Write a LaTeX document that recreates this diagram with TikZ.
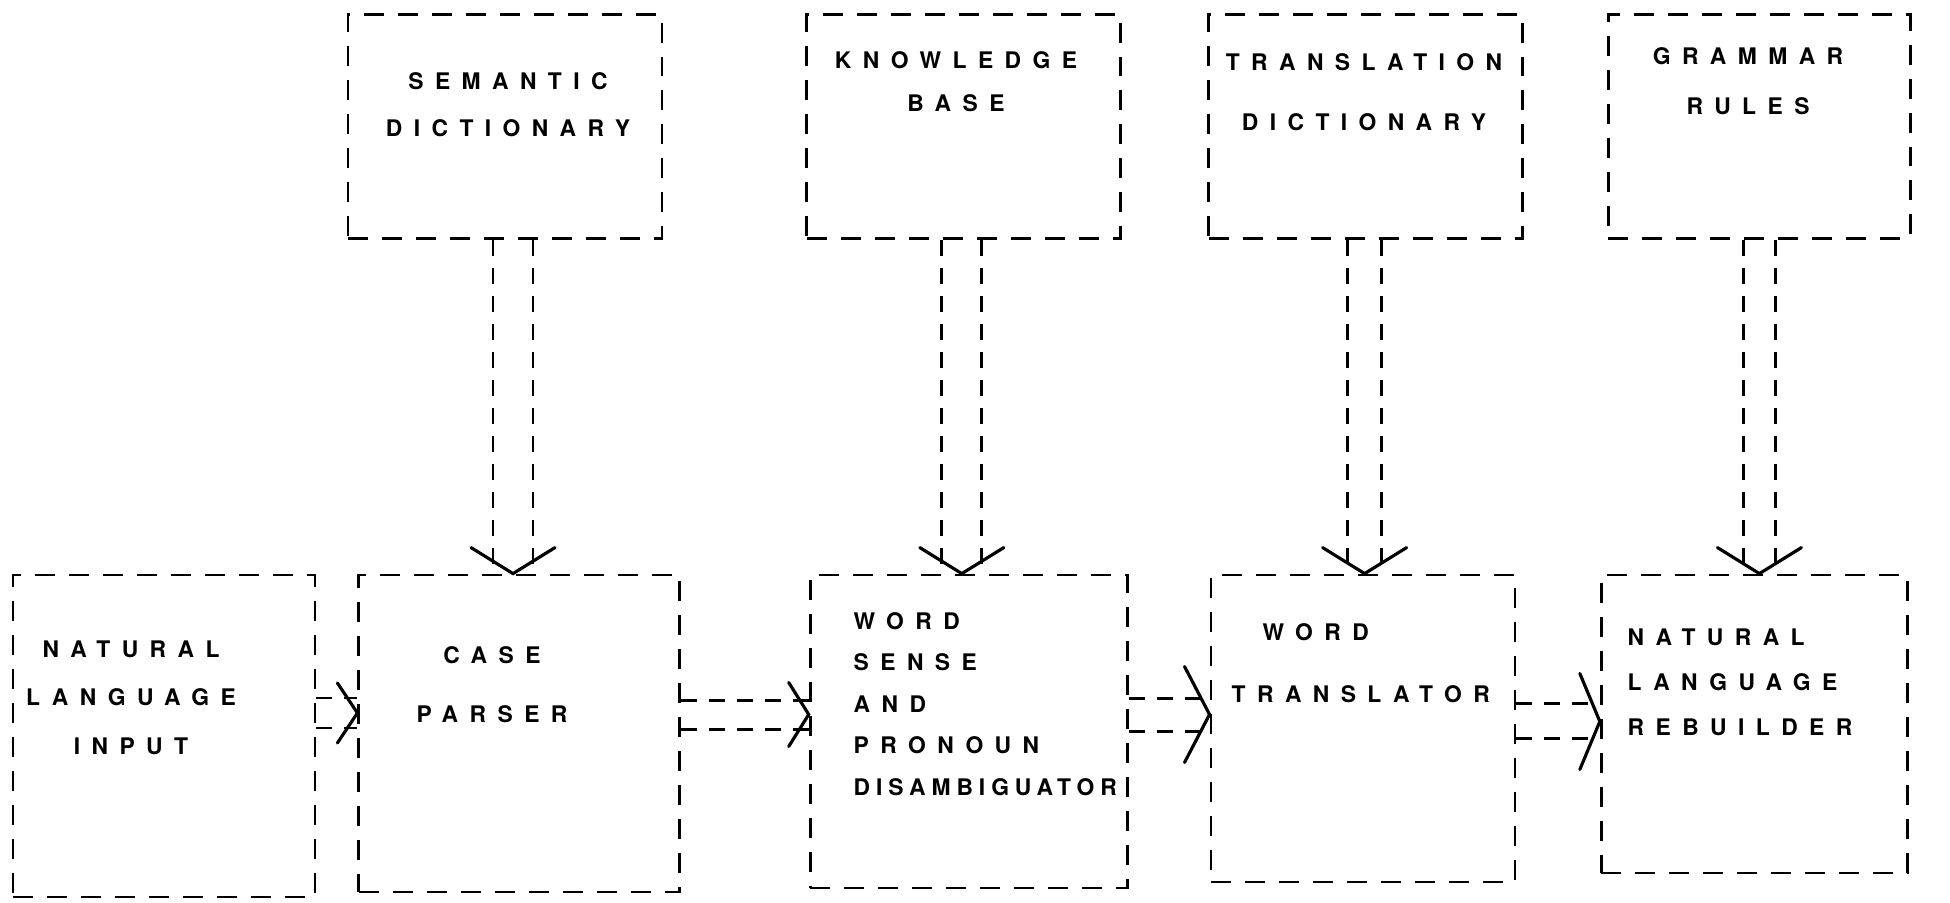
\documentclass[tikz,border=0pt]{standalone}
\usepackage{fontspec}
\usetikzlibrary{positioning}
\newfontfamily\handfont[LetterSpace=50]{TeX Gyre Heros}
\newfontfamily\handtight[LetterSpace=26]{TeX Gyre Heros}

\begin{document}
\begin{tikzpicture}[
  store/.style={draw, line width=0.8pt, dash pattern=on 0.2cm off 0.14cm, minimum width=3.14cm, minimum height=2.24cm},
  stage/.style={draw, line width=0.8pt, dash pattern=on 0.2cm off 0.14cm, minimum width=3.1cm, minimum height=3.15cm},
  lbl/.style={inner sep=0pt, font=\handfont\bfseries\fontsize{6.5}{#1}\selectfont},
  feed/.style={line width=0.8pt, dash pattern=on 0.16cm off 0.12cm},
  barb/.style={line width=0.9pt, line cap=round, line join=miter}]
  \useasboundingbox (0,0) rectangle (19.5,9.03);

  % knowledge stores along the top
  \node[store] (semdict) at (5.05,7.765) {};
  \node[store, right=1.42cm of semdict] (kbase) {};
  \node[store, right=0.85cm of kbase] (transdict) {};
  \node[store, right=0.83cm of transdict, minimum width=3.02cm] (grammar) {};

  % processing stages along the bottom
  \node[stage, minimum width=3.02cm, minimum height=3.22cm] (nlinput) at (1.64,1.67) {};
  \node[stage, right=0.41cm of nlinput.north east, anchor=north west, minimum width=3.21cm, minimum height=3.17cm] (caseparser) {};
  \node[stage, right=1.275cm of caseparser.north east, anchor=north west, minimum width=3.17cm, minimum height=3.13cm] (wordsense) {};
  \node[stage, right=0.81cm of wordsense.north east, anchor=north west, minimum width=3.04cm, minimum height=3.07cm] (translator) {};
  \node[stage, right=0.835cm of translator.north east, anchor=north west, minimum width=3.06cm, minimum height=2.98cm] (rebuilder) {};

  \node[lbl=13.4, align=center] (semdict-txt) at (5.08,7.985) {SEMANTIC\\DICTIONARY};
  \node[lbl=12.2, align=center] (kbase-txt) at (9.56,8.215) {KNOWLEDGE\\BASE};
  \node[lbl=17, align=center] (transdict-txt) at (13.64,8.11) {TRANSLATION\\DICTIONARY};
  \node[lbl=14.2, align=center] (grammar-txt) at (17.48,8.22) {GRAMMAR\\RULES};
  \node[lbl=13.8, align=center] (nlinput-txt) at (1.31,2.055) {NATURAL\\LANGUAGE\\INPUT};
  \node[lbl=16.8, align=center] (caseparser-txt) at (4.92,2.185) {CASE\\PARSER};
  \node[lbl=11.8, align=left, anchor=west] (wordsense-txt) at (8.53,1.99) {WORD\\SENSE\\AND\\PRONOUN\\{\handtight\bfseries DISAMBIGUATOR}};
  \node[lbl=17.6, align=left, anchor=west] (translator-txt) at (12.31,2.4) {\hspace*{0.31cm}WORD\\TRANSLATOR};
  \node[lbl=12.8, align=left, anchor=west] (rebuilder-txt) at (16.27,2.21) {NATURAL\\LANGUAGE\\REBUILDER};

  % feeds from the stores
  \draw[feed] ([xshift=-1.2mm]semdict.south) -- ([xshift=-1.2mm]semdict.south |- caseparser.north);
  \draw[feed] ([xshift=2.8mm]semdict.south) -- ([xshift=2.8mm]semdict.south |- caseparser.north);
  \draw[barb] ([xshift=0.8mm]semdict.south |- caseparser.north) ++(-0.42,0.26) -- ++(0.42,-0.26) -- ++(0.42,0.26);
  \draw[feed] ([xshift=-2.2mm]kbase.south) -- ([xshift=-2.2mm]kbase.south |- wordsense.north);
  \draw[feed] ([xshift=1.8mm]kbase.south) -- ([xshift=1.8mm]kbase.south |- wordsense.north);
  \draw[barb] ([xshift=-0.2mm]kbase.south |- wordsense.north) ++(-0.42,0.26) -- ++(0.42,-0.26) -- ++(0.42,0.26);
  \draw[feed] ([xshift=-1.8mm]transdict.south) -- ([xshift=-1.8mm]transdict.south |- translator.north);
  \draw[feed] ([xshift=1.6mm]transdict.south) -- ([xshift=1.6mm]transdict.south |- translator.north);
  \draw[barb] ([xshift=-0.1mm]transdict.south |- translator.north) ++(-0.42,0.26) -- ++(0.42,-0.26) -- ++(0.42,0.26);
  \draw[feed] ([xshift=-1.6mm]grammar.south) -- ([xshift=-1.6mm]grammar.south |- rebuilder.north);
  \draw[feed] ([xshift=1.6mm]grammar.south) -- ([xshift=1.6mm]grammar.south |- rebuilder.north);
  \draw[barb] (grammar.south |- rebuilder.north) ++(-0.42,0.26) -- ++(0.42,-0.26) -- ++(0.42,0.26);

  % the main pipeline
  \draw[feed] ([yshift=3.8mm]nlinput.east) -- ([yshift=3.8mm]nlinput.east -| caseparser.west);
  \draw[feed] ([yshift=0.8mm]nlinput.east) -- ([yshift=0.8mm]nlinput.east -| caseparser.west);
  \draw[barb] ([yshift=2.3mm]nlinput.east -| caseparser.west) ++(-0.2,0.3) -- ++(0.2,-0.3) -- ++(-0.2,-0.3);
  \draw[feed] ([yshift=3.3mm]caseparser.east) -- ([yshift=3.3mm]caseparser.east -| wordsense.west);
  \draw[feed] ([yshift=0.4mm]caseparser.east) -- ([yshift=0.4mm]caseparser.east -| wordsense.west);
  \draw[barb] ([yshift=1.9mm]caseparser.east -| wordsense.west) ++(-0.2,0.32) -- ++(0.2,-0.32) -- ++(-0.2,-0.32);
  \draw[feed] ([yshift=3.3mm]wordsense.east) -- ([yshift=3.3mm]wordsense.east -| translator.west);
  \draw[feed] ([yshift=0mm]wordsense.east) -- ([yshift=0mm]wordsense.east -| translator.west);
  \draw[barb] ([yshift=1.7mm]wordsense.east -| translator.west) ++(-0.25,0.48) -- ++(0.25,-0.48) -- ++(-0.25,-0.48);
  \draw[feed] ([yshift=2.5mm]translator.east) -- ([yshift=2.5mm]translator.east -| rebuilder.west);
  \draw[feed] ([yshift=-1mm]translator.east) -- ([yshift=-1mm]translator.east -| rebuilder.west);
  \draw[barb] ([yshift=0.7mm]translator.east -| rebuilder.west) ++(-0.2,0.48) -- ++(0.2,-0.48) -- ++(-0.2,-0.48);
\end{tikzpicture}
\end{document}
